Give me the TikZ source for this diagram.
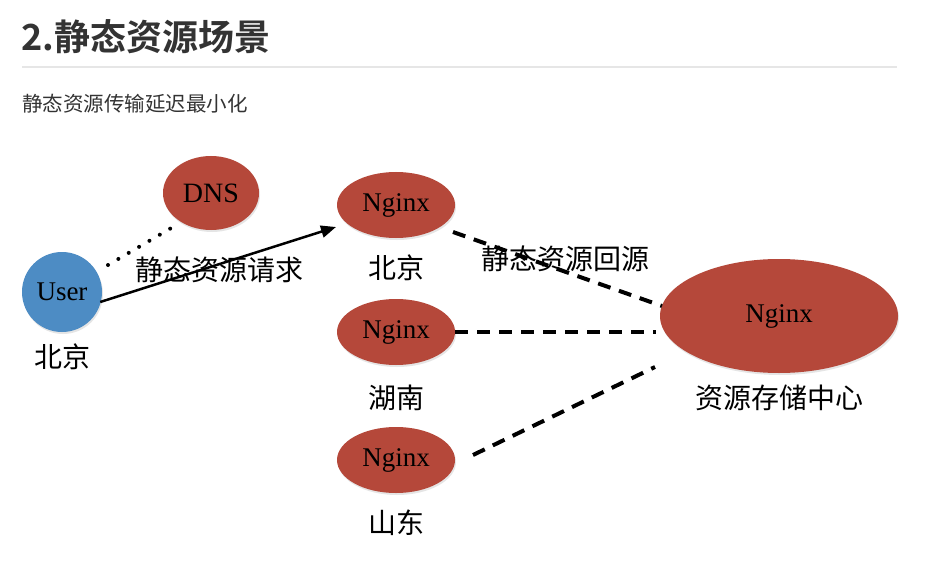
\documentclass[tikz,border=0pt]{standalone}
\usepackage{fontspec}
\setmainfont{Liberation Serif}
\newfontfamily\cjk{Noto Sans CJK SC}
\newfontfamily\cjkb{Noto Sans CJK SC Bold}
\usetikzlibrary{shapes.geometric,arrows.meta,shadows}
\definecolor{nred}{HTML}{B5483A}
\definecolor{ublue}{HTML}{4D8CC4}
\definecolor{rule}{HTML}{E6E6E6}
\definecolor{head}{HTML}{333333}
\tikzset{
  redell/.style={ellipse, fill=nred, inner sep=0pt, font=\fontsize{27}{29}\selectfont,
     drop shadow={opacity=0.2, shadow xshift=1pt, shadow yshift=-2pt}},
  lbl/.style={font=\cjk\fontsize{28}{30}\selectfont, text=black},
  dashline/.style={line width=4pt, dash pattern=on 13pt off 9pt},
  dotline/.style={line width=4pt, line cap=round, dash pattern=on 0pt off 12pt}
}
\begin{document}
\begin{tikzpicture}[x=1pt,y=-1pt]
\useasboundingbox (0,0) rectangle (925,561);
\fill[white] (0,0) rectangle (925,561);
% header
\node[anchor=west, inner sep=0pt, text=head, font=\cjkb\fontsize{36}{38}\selectfont] (title) at (21,37) {2.静态资源场景};
\draw[rule, line width=1.5pt] (22,67) -- (897,67);
\node[anchor=west, inner sep=0pt, text=head, font=\cjk\fontsize{20.5}{22}\selectfont] (sub) at (22,104) {静态资源传输延迟最小化};
% nodes
\node[redell, minimum width=96pt, minimum height=74pt, font=\fontsize{28}{30}\selectfont] (dns) at (211,193) {DNS};
\node[circle, fill=ublue, minimum size=80pt, inner sep=0pt, font=\fontsize{27}{29}\selectfont,
      drop shadow={opacity=0.2, shadow xshift=1pt, shadow yshift=-2pt}] (user) at (62,292) {User};
\node[lbl] (userl) at (62,357) {北京};
\node[redell, minimum width=118pt, minimum height=66pt] (bj) at (396,205) {Nginx};
\node[lbl] (bjl) at (396,268) {北京};
\node[redell, minimum width=118pt, minimum height=66pt] (hn) at (396,332) {Nginx};
\node[lbl] (hnl) at (396,398) {湖南};
\node[redell, minimum width=118pt, minimum height=66pt] (sd) at (396,460) {Nginx};
\node[lbl] (sdl) at (396,523) {山东};
\node[redell, minimum width=238pt, minimum height=114pt] (ctr) at (779,316) {Nginx};
\node[lbl] (ctrl) at (779,398) {资源存储中心};
% connectors
\coordinate (d1) at (108,265);
\coordinate (d2) at (173,227);
\draw[dotline] (d1) -- (d2);
\draw[line width=2.5pt, -{Triangle[length=15pt,width=12pt]}] (user.east) ++(-2,10) coordinate (a1) -- (336,227) coordinate (a2);
\node[lbl] (req) at (219,270) {静态资源请求};
\coordinate (b1) at (453,232);
\coordinate (b2) at (662,306);
\draw[dashline] (b1) -- (b2);
\node[lbl] (back) at (565,259) {静态资源回源};
\draw[dashline] (hn.east) -- (656,332);
\coordinate (c1) at (473,455);
\coordinate (c2) at (655,367);
\draw[dashline] (c1) -- (c2);
\end{tikzpicture}
\end{document}
